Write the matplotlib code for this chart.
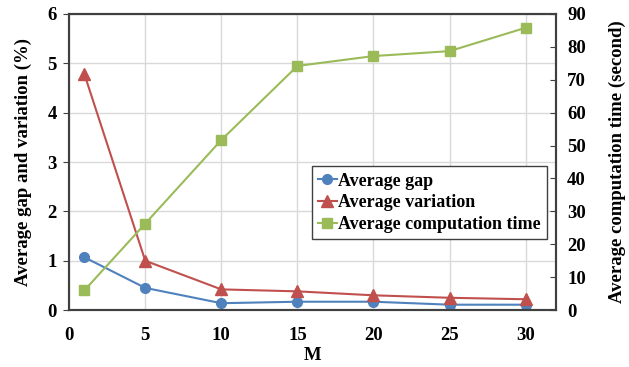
import matplotlib
matplotlib.use('Agg')
from matplotlib import pyplot as plt

m_values = [1, 5, 10, 15, 20, 25, 30]
avg_gap = [1.07, 0.45, 0.14, 0.17, 0.17, 0.11, 0.11]
avg_variation = [4.78, 1.00, 0.42, 0.38, 0.30, 0.25, 0.22]
avg_time = [6.0, 26.3, 51.7, 74.2, 77.2, 78.7, 85.8]

plt.rcParams['font.family'] = ['Liberation Serif', 'DejaVu Serif']
plt.rcParams['font.weight'] = 'bold'

fig = plt.figure(figsize=(6.29, 3.67), dpi=100)
ax = fig.add_axes([0.110, 0.155, 0.774, 0.807])
ax2 = ax.twinx()

l1, = ax.plot(m_values, avg_gap, color='#4F81BD', marker='o', markersize=7, lw=1.5, label='Average gap')
l2, = ax.plot(m_values, avg_variation, color='#C0504D', marker='^', markersize=8, lw=1.5, label='Average variation')
l3, = ax2.plot(m_values, avg_time, color='#9BBB59', marker='s', markersize=7, lw=1.5, label='Average computation time')

ax.set_xlim(0, 32)
ax.set_ylim(0, 6)
ax2.set_ylim(0, 90)
ax.set_xticks([0, 5, 10, 15, 20, 25, 30])
ax.set_yticks(range(0, 7))
ax2.set_yticks(range(0, 91, 10))

ax.grid(True, color='#d9d9d9', lw=1)
ax.set_axisbelow(True)

for a in (ax, ax2):
    for s in a.spines.values():
        s.set_color('#404040')
        s.set_linewidth(1.5)
ax.tick_params(axis='x', length=0, pad=12, labelsize=13.5)
ax.tick_params(axis='y', direction='out', length=4, color='#404040', labelsize=13.5, pad=5)
ax2.tick_params(axis='y', direction='in', length=4, color='#404040', labelsize=13.5, pad=8)

ax.set_xlabel('M', fontweight='bold', fontsize=13.5, labelpad=2)
ax.set_ylabel('Average gap and variation (%)', fontweight='bold', fontsize=13.5, labelpad=11)
ax2.set_ylabel('Average computation time (second)', fontweight='bold', fontsize=13.5, labelpad=16)

leg = ax2.legend(handles=[l1, l2, l3], loc='upper left', bbox_to_anchor=(0.499, 0.485),
                 fancybox=False, edgecolor='#404040', framealpha=1, handlelength=1.0,
                 handletextpad=0.1, borderpad=0.35, labelspacing=0.25, fontsize=13,
                 borderaxespad=0)
leg.get_frame().set_linewidth(1.0)

fig.savefig('out.png', dpi=100)
